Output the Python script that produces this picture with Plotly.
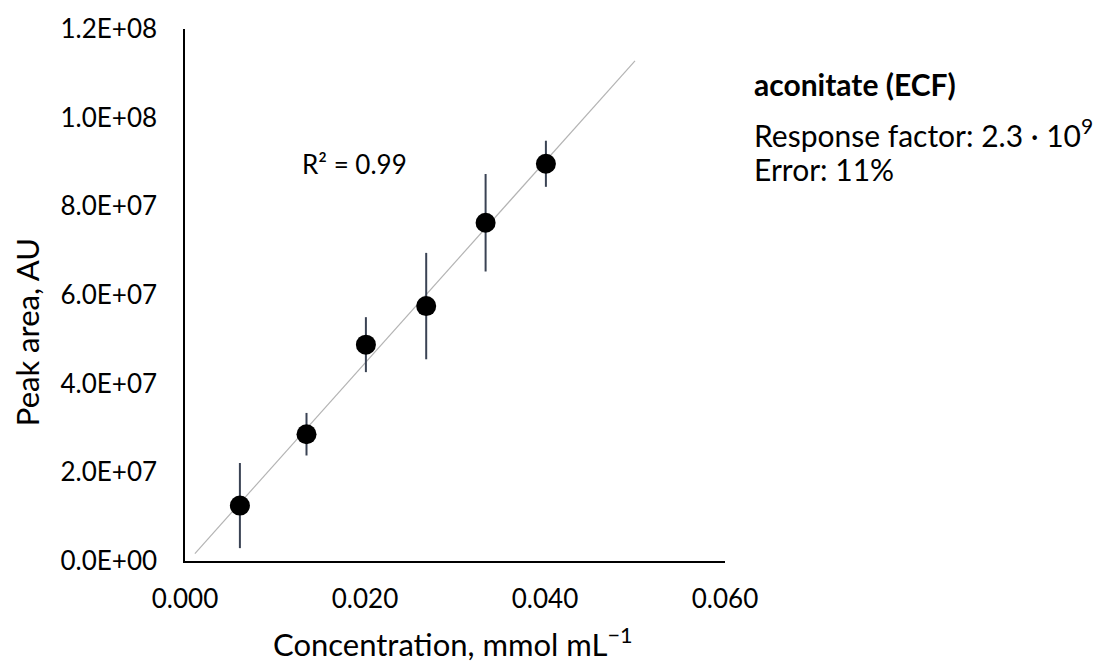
import numpy as np
import plotly.graph_objects as go

# Calibration points
conc = [0.0061, 0.0135, 0.0201, 0.0268, 0.0334, 0.0401]
area = [1.25e7, 2.86e7, 4.88e7, 5.75e7, 7.63e7, 8.96e7]
err = [0.96e7, 0.48e7, 0.62e7, 1.2e7, 1.1e7, 0.52e7]

x_ticks = [0.0, 0.02, 0.04, 0.06]
x_labels = ["0.000", "0.020", "0.040", "0.060"]
y_ticks = [0, 2e7, 4e7, 6e7, 8e7, 1e8, 1.2e8]
y_labels = ["0.0E+00", "2.0E+07", "4.0E+07", "6.0E+07", "8.0E+07", "1.0E+08", "1.2E+08"]

# Linear trendline by least squares
slope, intercept = np.polyfit(conc, area, 1)
fit_x = np.array([0.0011, 0.050])
fit_y = slope * fit_x + intercept

FONT = "Lato, 'Open Sans', sans-serif"
W, H = 1109, 664
ML, MR, MT, MB = 185, 384, 24, 103
PW, PH = W - ML - MR, H - MT - MB


def px(x, y):
    """Convert pixel position (from top-left) to paper coordinates."""
    return (x - ML) / PW, (H - MB - y) / PH


fig = go.Figure()
fig.add_trace(go.Scatter(
    x=fit_x, y=fit_y, mode="lines",
    line=dict(color="#b4b4b4", width=1.2),
    hoverinfo="skip", showlegend=False,
))
fig.add_trace(go.Scatter(
    x=conc, y=area, mode="markers",
    marker=dict(color="black", size=20),
    error_y=dict(type="data", array=err, visible=True,
                 color="#3a4354", thickness=2, width=0),
    showlegend=False,
))

annotations = [
    dict(text="R² = 0.99", x=0.0188, y=8.95e7, xref="x", yref="y",
         showarrow=False, font=dict(size=26)),
]
for text, x, y, size in [
    ("<b>aconitate (ECF)</b>", 752, 80, 30),
    ("Response factor: 2.3 · 10<sup>9</sup>", 752, 129, 30),
    ("Error: 11%", 752, 165, 30),
]:
    ax, ay = px(x, y)
    annotations.append(dict(text=text, x=ax, y=ay, xref="paper", yref="paper",
                            showarrow=False, xanchor="left", yanchor="middle",
                            font=dict(size=size)))

# Axis titles
tx, ty = px(453, 643)
annotations.append(dict(text="Concentration, mmol mL<sup>−1</sup>", x=tx, y=ty,
                        xref="paper", yref="paper", showarrow=False,
                        xanchor="center", yanchor="middle", font=dict(size=31)))
tx, ty = px(27, 330)
annotations.append(dict(text="Peak area, AU", x=tx, y=ty, textangle=-90,
                        xref="paper", yref="paper", showarrow=False,
                        xanchor="center", yanchor="middle", font=dict(size=31)))

fig.update_layout(
    width=W, height=H,
    margin=dict(l=ML, r=MR, t=MT, b=MB),
    plot_bgcolor="white", paper_bgcolor="white",
    font=dict(family=FONT, size=26, color="black"),
    xaxis=dict(
        range=[0, 0.06], tickvals=x_ticks, ticktext=x_labels,
        showgrid=False, zeroline=False, showline=True,
        linecolor="black", linewidth=1.5,
        ticks="outside", ticklen=0, ticklabelstandoff=14,
    ),
    yaxis=dict(
        range=[0, 1.2e8], tickvals=y_ticks, ticktext=y_labels,
        showgrid=False, zeroline=False, showline=True,
        linecolor="black", linewidth=1.5,
        ticks="outside", ticklen=0, ticklabelstandoff=21,
    ),
    annotations=annotations,
)

fig.write_html("out.html")
